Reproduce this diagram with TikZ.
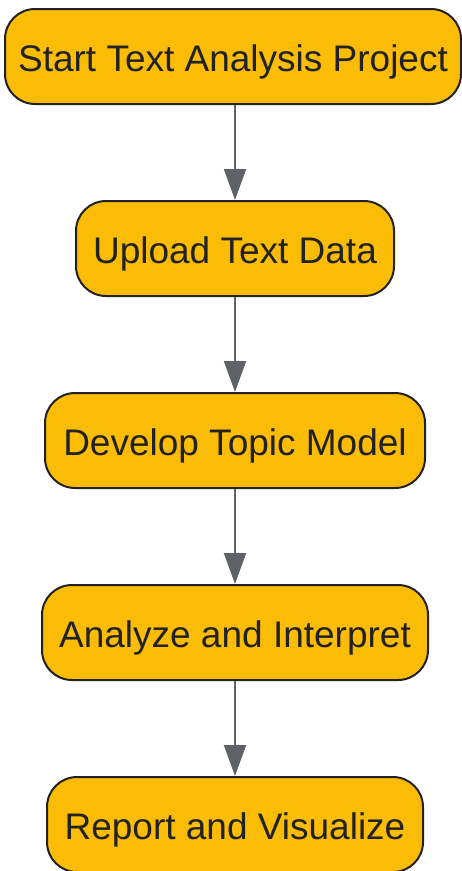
\documentclass[tikz,border=0pt]{standalone}
\usepackage{fontspec}
\setmainfont{Liberation Sans}
\usetikzlibrary{arrows.meta}
\definecolor{boxfill}{HTML}{FBBC05}
\definecolor{boxline}{HTML}{222222}
\definecolor{arrowgray}{HTML}{5F6368}
\begin{document}
\begin{tikzpicture}[x=1pt,y=1pt,
  stepbox/.style={draw=boxline, fill=boxfill, line width=2pt, rounded corners=30pt,
    minimum height=95pt, inner sep=0pt, text=boxline, text height=29.3pt, text depth=0pt,
    font=\fontsize{37}{44}\selectfont},
  flow/.style={draw=arrowgray, line width=2pt, -{Triangle[length=31pt,width=22pt]}}]
\useasboundingbox (0,0) rectangle (462,-871);
\node[stepbox, minimum width=456pt] (n1) at (233,-56.5) {Start Text Analysis Project};
\node[stepbox, minimum width=318pt] (n2) at (235,-248.5) {Upload Text Data};
\node[stepbox, minimum width=380pt] (n3) at (235,-440.5) {Develop Topic Model};
\node[stepbox, minimum width=386pt] (n4) at (235,-632.5) {Analyze and Interpret};
\node[stepbox, minimum width=376pt] (n5) at (235,-824.5) {Report and Visualize};
\draw[flow] (n1.south -| n2.north) -- (n2.north);
\draw[flow] (n2) -- (n3);
\draw[flow] (n3) -- (n4);
\draw[flow] (n4) -- (n5);
\end{tikzpicture}
\end{document}
